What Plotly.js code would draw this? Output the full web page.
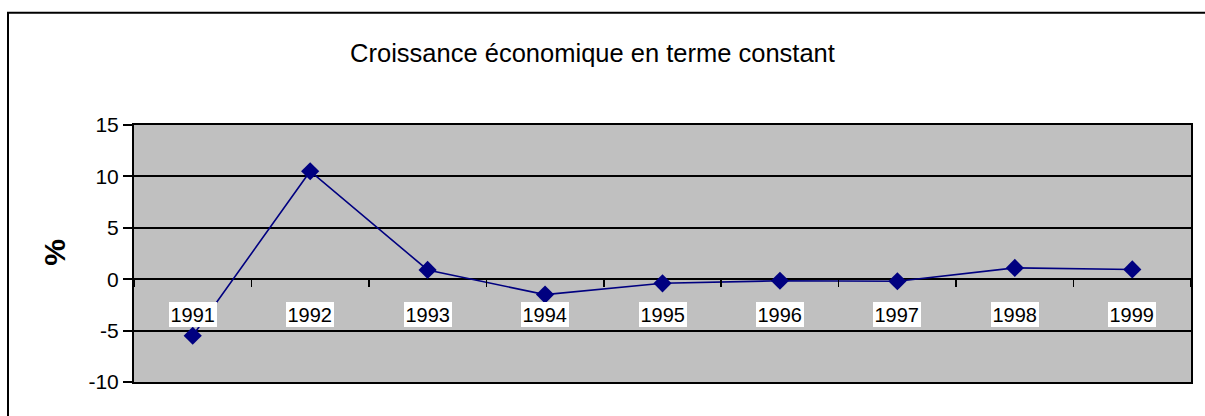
<!DOCTYPE html>
<html>
<head>
<meta charset="utf-8">
<script src="https://cdn.plot.ly/plotly-3.0.1.min.js"></script>
<style>html,body{margin:0;padding:0;background:#fff;}#chart{width:1205px;height:416px;}</style>
</head>
<body>
<div id="chart"></div>
<script>
const years = ['1991','1992','1993','1994','1995','1996','1997','1998','1999'];
const growth = [-5.5, 10.5, 0.9, -1.5, -0.4, -0.15, -0.2, 1.1, 0.95];
const yTicks = [-10, -5, 0, 5, 10, 15];
const titleText = 'Croissance économique en terme constant';
const yTitle = '%';

const FONT = 'Liberation Sans, Arial, sans-serif';
const W = 1205, H = 416;
const L = 134, R = 14, T = 125, B = 33.5;
const pw = W - L - R, ph = H - T - B;

const trace = {
  x: years, y: growth, type: 'scatter', mode: 'lines+markers',
  line: {color: '#000080', width: 1.6},
  marker: {symbol: 'diamond', size: 14, color: '#000080'},
  hoverinfo: 'skip'
};

const annotations = years.map((yr, i) => ({
  x: i, y: 0, xref: 'x', yref: 'y', text: yr, showarrow: false,
  yshift: -35, bgcolor: '#ffffff', borderpad: 1.5, borderwidth: 0,
  font: {family: FONT, size: 20, color: '#000'}
}));
annotations.push({
  xref: 'paper', yref: 'paper', x: (55 - L) / pw, y: (H - B - 253) / ph,
  xanchor: 'center', yanchor: 'middle',
  text: '<b>' + yTitle + '</b>', showarrow: false, textangle: -90,
  font: {family: FONT, size: 30, color: '#000'}
});

const layout = {
  width: W, height: H,
  margin: {l: L, r: R, t: T, b: B, pad: 0},
  paper_bgcolor: '#ffffff', plot_bgcolor: '#c0c0c0',
  showlegend: false,
  title: {text: titleText, xref: 'container', yref: 'container', x: 592.5 / W, xanchor: 'center',
          y: 1 - 53 / H, yanchor: 'middle', font: {family: FONT, size: 25.5, color: '#000'}},
  font: {family: FONT, color: '#000'},
  xaxis: {
    type: 'category', range: [-0.5, 8.5], anchor: 'free', position: 0.4,
    tickson: 'boundaries', ticks: 'outside', ticklen: 7, tickwidth: 1.5, tickcolor: '#000',
    showticklabels: false, showgrid: false, zeroline: false, showline: false, fixedrange: true
  },
  xaxis2: {
    overlaying: 'x', anchor: 'y', range: [-0.5, 8.5], showline: true, mirror: true, linecolor: '#000', linewidth: 2,
    showticklabels: false, ticks: '', showgrid: false, zeroline: false, type: 'category'
  },
  yaxis: {
    range: [-10, 15], tickvals: yTicks, ticktext: yTicks.map(String),
    ticks: 'outside', ticklen: 9, tickwidth: 2, tickcolor: '#000',
    showline: true, mirror: true, linecolor: '#000', linewidth: 2,
    showgrid: true, gridcolor: '#000', gridwidth: 2,
    zeroline: true, zerolinecolor: '#000', zerolinewidth: 2,
    tickfont: {family: FONT, size: 21, color: '#000'}, fixedrange: true
  },
  annotations: annotations,
  shapes: [{
    type: 'rect', xref: 'paper', yref: 'paper',
    x0: (8 - L) / pw, x1: (W + 20 - L) / pw,
    y0: (H - B - (H + 20)) / ph, y1: (H - B - 12.5) / ph,
    line: {color: '#000', width: 2}, fillcolor: 'rgba(0,0,0,0)', layer: 'below'
  }]
};

const ghost = {x: years, y: growth, xaxis: 'x2', yaxis: 'y', type: 'scatter', mode: 'none', hoverinfo: 'skip', showlegend: false};

Plotly.newPlot('chart', [ghost, trace], layout, {staticPlot: true, displayModeBar: false});
</script>
</body>
</html>
